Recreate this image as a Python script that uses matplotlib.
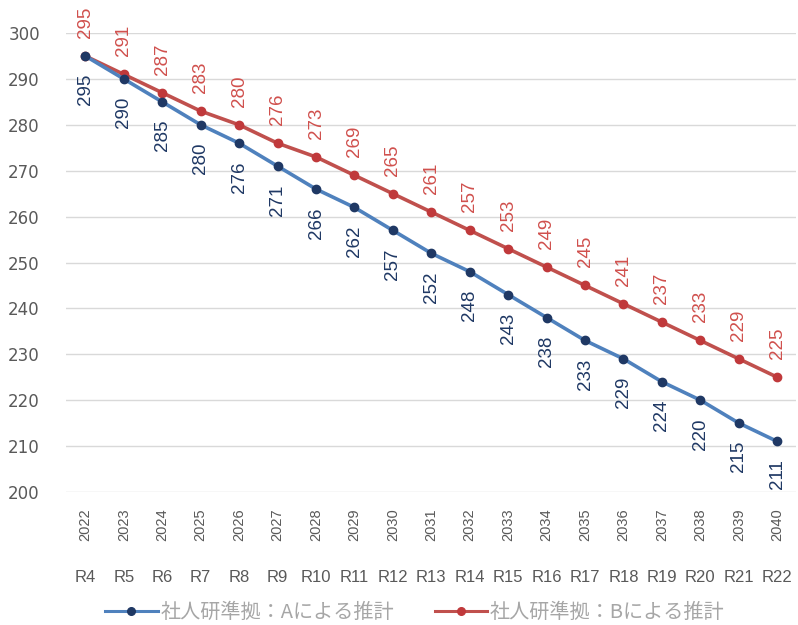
import matplotlib
matplotlib.use('Agg')
import matplotlib.pyplot as plt
from matplotlib.lines import Line2D

years = [str(y) for y in range(2022, 2041)]
reiwa = ['R' + str(i) for i in range(4, 23)]
serie_a = [295, 290, 285, 280, 276, 271, 266, 262, 257, 252,
           248, 243, 238, 233, 229, 224, 220, 215, 211]
serie_b = [295, 291, 287, 283, 280, 276, 273, 269, 265, 261,
           257, 253, 249, 245, 241, 237, 233, 229, 225]
labels = ['社人研準拠：Aによる推計', '社人研準拠：Bによる推計']

plt.rcParams['font.family'] = ['DejaVu Sans', 'Noto Sans CJK JP']

fig = plt.figure(figsize=(7.98, 6.25), dpi=100)
ax = fig.add_axes([0.083, 0.213, 0.915, 0.734])

x = list(range(len(years)))

# lines
ax.plot(x, serie_b, color='#c0504d', lw=2.6, marker='o', ms=6,
        mfc='#c0393b', mec='#c0393b', zorder=3)
ax.plot(x, serie_a, color='#4f81bd', lw=2.6, marker='o', ms=6,
        mfc='#1f3864', mec='#1f3864', zorder=4)

# data labels
for i in range(len(x)):
    ax.annotate(str(serie_a[i]), (x[i], serie_a[i]), xytext=(0, -13),
                textcoords='offset points', rotation=90, ha='center', va='top',
                fontsize=13.5, family='Liberation Sans', color='#1f3864')
    ax.annotate(str(serie_b[i]), (x[i], serie_b[i]), xytext=(0, 13),
                textcoords='offset points', rotation=90, ha='center', va='bottom',
                fontsize=13.5, family='Liberation Sans', color='#d0504d')

ax.set_xlim(-0.5, len(x) - 0.5)
ax.set_ylim(200, 300)
ax.set_yticks(range(200, 301, 10))
ax.grid(axis='y', color='#d9d9d9', lw=1)
ax.set_axisbelow(True)
for s in ax.spines.values():
    s.set_visible(False)

ax.set_xticks(x)
ax.set_xticklabels(years, rotation=90, fontsize=10.5, family='Liberation Sans',
                   color='#595959')
ax.tick_params(axis='x', length=0, pad=12)
ax.tick_params(axis='y', length=0, labelsize=12, labelcolor='#595959', pad=19)

for i in range(len(x)):
    ax.annotate(reiwa[i], (x[i], 0), xycoords=('data', 'axes fraction'),
                xytext=(0, -62), textcoords='offset points', ha='center',
                va='center', fontsize=12, family='Liberation Sans',
                color='#595959')

handles = [Line2D([], [], color='#4f81bd', lw=2.2, marker='o', ms=5.5,
                  mfc='#1f3864', mec='#1f3864'),
           Line2D([], [], color='#c0504d', lw=2.2, marker='o', ms=5.5,
                  mfc='#c0393b', mec='#c0393b')]
leg = fig.legend(handles, labels, loc='center', bbox_to_anchor=(0.52, 0.02),
                 ncol=2, frameon=False, handlelength=2.6, columnspacing=2.0,
                 handletextpad=0.15,
                 prop={'family': ['Noto Sans CJK JP', 'DejaVu Sans'], 'size': 14.5})
for t in leg.get_texts():
    t.set_color('#a6a6a6')

fig.savefig('out.png', dpi=100)
